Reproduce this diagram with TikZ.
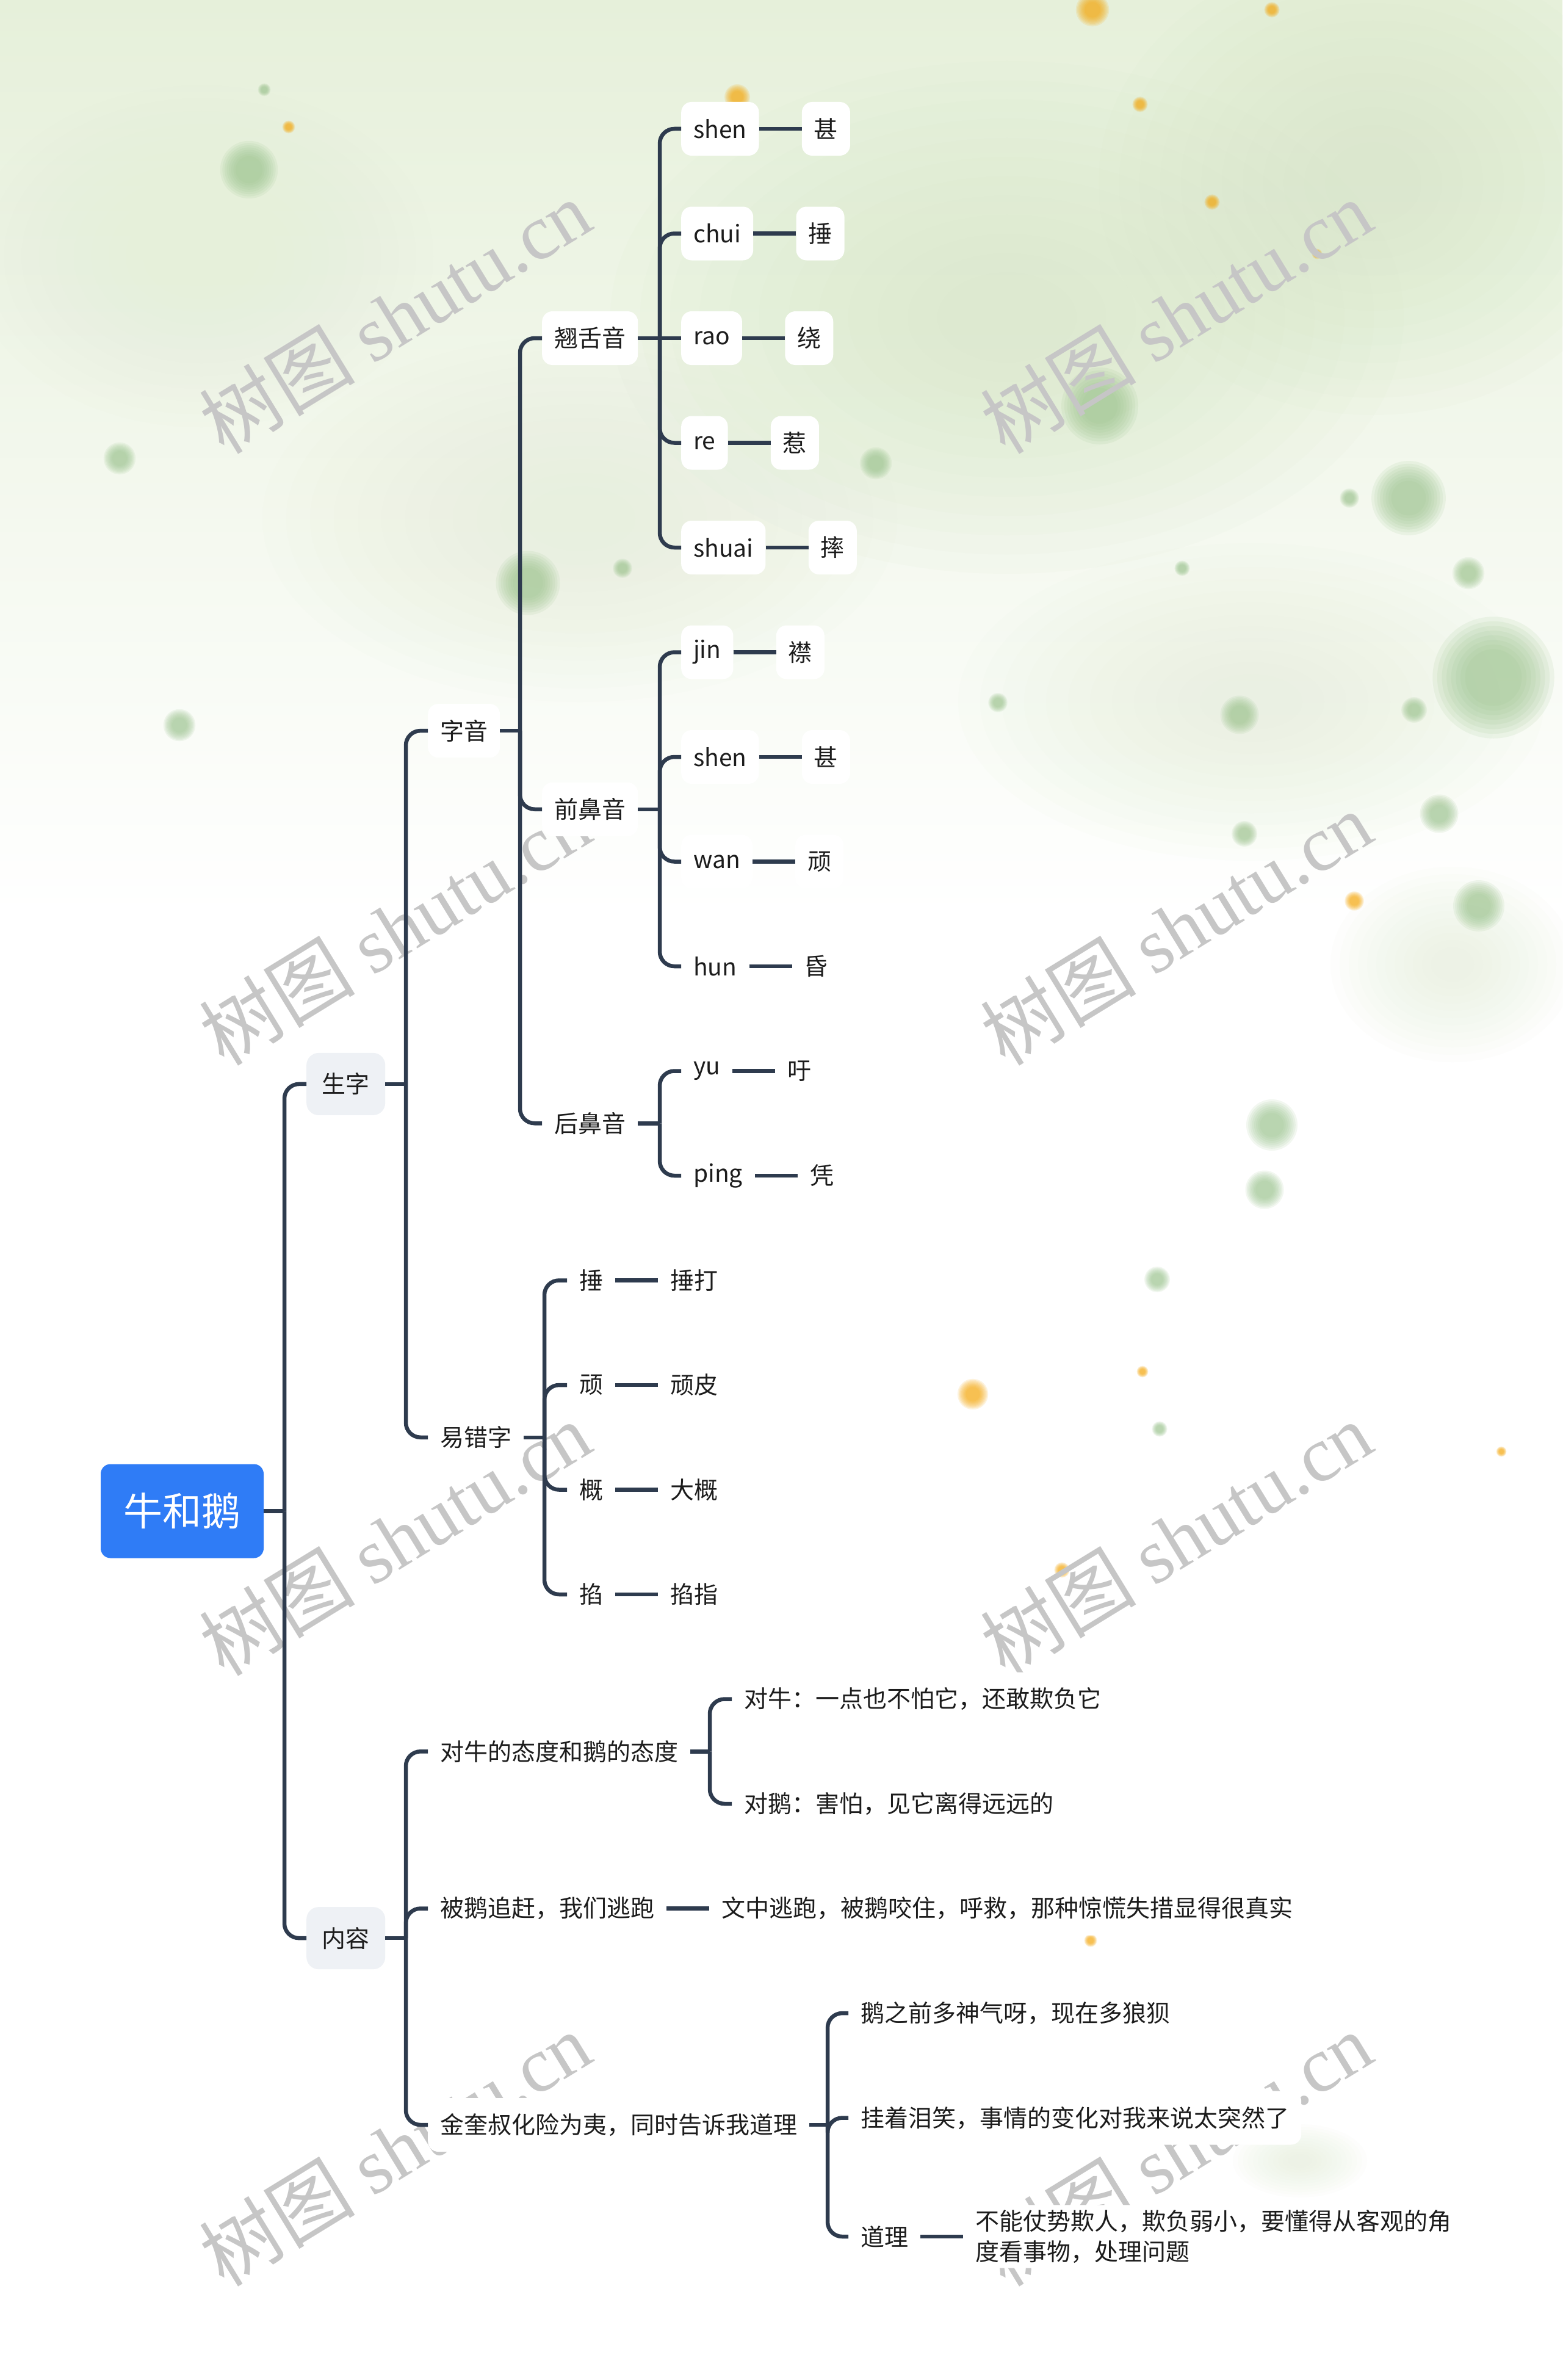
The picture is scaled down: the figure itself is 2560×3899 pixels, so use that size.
\documentclass[tikz,border=0pt]{standalone}
\usepackage{fontspec}
\setmainfont{Noto Sans CJK SC}
\newfontfamily\wmlatin{Liberation Serif}
\newfontfamily\wmcjk{Noto Sans CJK SC}
\usetikzlibrary{positioning}
\definecolor{linec}{HTML}{2E3B4E}
\definecolor{rootc}{HTML}{2F7CF6}
\definecolor{lonec}{HTML}{EEF1F5}
\definecolor{txt}{HTML}{1C1C1C}
\definecolor{wash}{HTML}{E6F0DA}
\definecolor{washd}{HTML}{D6E7C6}
\definecolor{blobg}{HTML}{9CC48E}
\definecolor{orng}{HTML}{F7A400}
\definecolor{wmc}{HTML}{C6C6C6}
\newcommand\softblob[4]{\foreach \k in {0,...,7}{\fill[#4,opacity=0.13] (#1,#2) circle ({#3*(1.05-0.08*\k)});}}
\newcommand\softwash[5]{\foreach \k in {0,...,11}{\fill[#5,opacity=0.07] (#1,#2) ellipse ({#3*(1-0.075*\k)} and {#4*(1-0.075*\k)});}}
\begin{document}
\begin{tikzpicture}[x=1pt,y=-1pt,
  font=\fontsize{39}{50}\selectfont,
  base/.style={text=txt, inner xsep=20pt, inner ysep=8pt, minimum height=88pt, rounded corners=17pt, fill=white, anchor=west},
  lone/.style={base, fill=lonec, inner xsep=25.5pt, minimum height=102pt, rounded corners=20pt},
  rootn/.style={fill=rootc, text=white, font=\fontsize{64}{70}\selectfont, minimum width=267pt, minimum height=154pt, rounded corners=16pt},
  link/.style={draw=linec, line width=6.5pt},
  branch/.style={link, rounded corners=24pt},
  wm/.style={text=wmc, font=\fontsize{128}{130}\selectfont, rotate=31.5}]
\useasboundingbox (0,0) rectangle (2560,3899);
% ---------- background ----------
\fill[white] (0,0) rectangle (2560,3899);
\shade[top color=wash, bottom color=white] (0,0) rectangle (2560,1500);
\softwash{1650}{520}{650}{420}{washd}
\softwash{2250}{300}{450}{380}{washd}
\softwash{2050}{1150}{480}{260}{wash}
\softwash{950}{850}{520}{300}{wash}
\softwash{330}{420}{380}{280}{wash}
\softwash{2380}{1580}{200}{160}{wash}
\softwash{2130}{3540}{110}{60}{wash}
\softblob{1802}{665}{60}{blobg}
\softblob{1435}{759}{25}{blobg}
\softblob{2308}{816}{58}{blobg}
\softblob{2211}{816}{15}{blobg}
\softblob{2406}{939}{25}{blobg}
\softblob{1937}{931}{12}{blobg}
\softblob{2447}{1110}{95}{blobg}
\softblob{2031}{1171}{30}{blobg}
\softblob{2317}{1163}{20}{blobg}
\softblob{1635}{1151}{15}{blobg}
\softblob{408}{278}{45}{blobg}
\softblob{433}{147}{10}{blobg}
\softblob{196}{751}{25}{blobg}
\softblob{865}{955}{50}{blobg}
\softblob{1020}{931}{15}{blobg}
\softblob{294}{1188}{25}{blobg}
\softblob{2358}{1333}{30}{blobg}
\softblob{2039}{1366}{20}{blobg}
\softblob{2423}{1484}{40}{blobg}
\softblob{2084}{1843}{40}{blobg}
\softblob{2072}{1949}{30}{blobg}
\softblob{1896}{2096}{20}{blobg}
\softblob{1900}{2341}{12}{blobg}
\softblob{1790}{16}{26}{orng}
\softblob{2084}{16}{12}{orng}
\softblob{1868}{171}{12}{orng}
\softblob{1986}{331}{12}{orng}
\softblob{2158}{416}{8}{orng}
\softblob{473}{208}{10}{orng}
\softblob{1208}{159}{20}{orng}
\softblob{2219}{1476}{15}{orng}
\softblob{1594}{2284}{24}{orng}
\softblob{1872}{2247}{9}{orng}
\softblob{1740}{2572}{12}{orng}
\softblob{2460}{2378}{8}{orng}
\softblob{1787}{3179}{10}{orng}
% ---------- watermarks (behind the diagram) ----------
\node[wm] (w1) at (647,518) {{\wmcjk 树图} {\wmlatin shutu.cn}};
\node[wm] (w2) at (1927,518) {{\wmcjk 树图} {\wmlatin shutu.cn}};
\node[wm] (w3) at (647,1520) {{\wmcjk 树图} {\wmlatin shutu.cn}};
\node[wm] (w4) at (1927,1520) {{\wmcjk 树图} {\wmlatin shutu.cn}};
\node[wm] (w5) at (647,2520) {{\wmcjk 树图} {\wmlatin shutu.cn}};
\node[wm] (w6) at (1927,2520) {{\wmcjk 树图} {\wmlatin shutu.cn}};
\node[wm] (w7) at (647,3520) {{\wmcjk 树图} {\wmlatin shutu.cn}};
\node[wm] (w8) at (1927,3520) {{\wmcjk 树图} {\wmlatin shutu.cn}};
% ---------- junctions ----------
\coordinate (j0) at (466,2475.5);
\coordinate (jsz) at (665,1775.9);
\coordinate (jnr) at (665,3175.1);
\coordinate (jzy) at (852,1197.1);
\coordinate (jycz) at (892,2354.75);
\coordinate (jqs) at (1081,554);
\coordinate (jqb) at (1081,1325.75);
\coordinate (jhb) at (1081,1840.25);
\coordinate (jtd) at (1163,2869.25);
\coordinate (jjk) at (1356,3481);
% ---------- nodes ----------
\node[rootn] (root) at (298.5,2475.5) {牛和鹅};
\node[lone] (sz) at (502,1775.9) {生字};
\node[lone] (nr) at (502,3175.1) {内容};
\node[base] (zy) at (701,1197.1) {字音};
\node[base] (ycz) at (701,2354.75) {易错字};
\node[base] (qs) at (888,554) {翘舌音};
\node[base] (qb) at (888,1325.75) {前鼻音};
\node[base] (hb) at (888,1840.25) {后鼻音};
% 翘舌音
\node[base] (a1) at (1116,211) {shen};   \node[base,right=70pt of a1] (b1) {甚};
\node[base] (a2) at (1116,382.5) {chui}; \node[base,right=70pt of a2] (b2) {捶};
\node[base] (a3) at (1116,554) {rao};    \node[base,right=70pt of a3] (b3) {绕};
\node[base] (a4) at (1116,725.5) {re};   \node[base,right=70pt of a4] (b4) {惹};
\node[base] (a5) at (1116,897) {shuai};  \node[base,right=70pt of a5] (b5) {摔};
% 前鼻音
\node[base] (a6) at (1116,1068.5) {jin}; \node[base,right=70pt of a6] (b6) {襟};
\node[base] (a7) at (1116,1240) {shen};  \node[base,right=70pt of a7] (b7) {甚};
\node[base] (a8) at (1116,1411.5) {wan}; \node[base,right=70pt of a8] (b8) {顽};
\node[base] (a9) at (1116,1583) {hun};   \node[base,right=70pt of a9] (b9) {昏};
% 后鼻音
\node[base] (a10) at (1116,1754.5) {yu};  \node[base,right=70pt of a10] (b10) {吁};
\node[base] (a11) at (1116,1926) {ping};  \node[base,right=70pt of a11] (b11) {凭};
% 易错字
\node[base] (e1) at (929,2097.5) {捶}; \node[base,right=70pt of e1] (f1) {捶打};
\node[base] (e2) at (929,2269) {顽};   \node[base,right=70pt of e2] (f2) {顽皮};
\node[base] (e3) at (929,2440.5) {概}; \node[base,right=70pt of e3] (f3) {大概};
\node[base] (e4) at (929,2612) {掐};   \node[base,right=70pt of e4] (f4) {掐指};
% 内容
\node[base] (td) at (701,2869.25) {对牛的态度和鹅的态度};
\node[base] (zg) at (701,3126.5) {被鹅追赶，我们逃跑};
\node[base] (jk) at (701,3481) {金奎叔化险为夷，同时告诉我道理};
\node[base] (t1) at (1199,2783.5) {对牛：一点也不怕它，还敢欺负它};
\node[base] (t2) at (1199,2955) {对鹅：害怕，见它离得远远的};
\node[base,right=70pt of zg] (z1) {文中逃跑，被鹅咬住，呼救，那种惊慌失措显得很真实};
\node[base] (k1) at (1390,3298) {鹅之前多神气呀，现在多狼狈};
\node[base] (k2) at (1390,3469.5) {挂着泪笑，事情的变化对我来说太突然了};
\node[base] (k3) at (1390,3664) {道理};
\node[base,align=left,right=70pt of k3] (k4) {不能仗势欺人，欺负弱小，要懂得从客观的角\\度看事物，处理问题};
% ---------- connectors ----------
\draw[link] (root.east) -- (j0);
\draw[branch] (j0) |- (sz.west);
\draw[branch] (j0) |- (nr.west);
\draw[link] (sz.east) -- (jsz);
\draw[branch] (jsz) |- (zy.west);
\draw[branch] (jsz) |- (ycz.west);
\draw[link] (zy.east) -- (jzy);
\draw[branch] (jzy) |- (qs.west);
\draw[branch] (jzy) |- (qb.west);
\draw[branch] (jzy) |- (hb.west);
\draw[link] (qs.east) -- (jqs);
\draw[branch] (jqs) |- (a1.west);
\draw[branch] (jqs) |- (a2.west);
\draw[link] (jqs) -- (a3.west);
\draw[branch] (jqs) |- (a4.west);
\draw[branch] (jqs) |- (a5.west);
\draw[link] (qb.east) -- (jqb);
\draw[branch] (jqb) |- (a6.west);
\draw[branch] (jqb) |- (a7.west);
\draw[branch] (jqb) |- (a8.west);
\draw[branch] (jqb) |- (a9.west);
\draw[link] (hb.east) -- (jhb);
\draw[branch] (jhb) |- (a10.west);
\draw[branch] (jhb) |- (a11.west);
\foreach \i in {1,...,11} {\draw[link] (a\i) -- (b\i);}
\draw[link] (ycz.east) -- (jycz);
\foreach \i in {1,...,4} {\draw[branch] (jycz) |- (e\i.west); \draw[link] (e\i) -- (f\i);}
\draw[link] (nr.east) -- (jnr);
\draw[branch] (jnr) |- (td.west);
\draw[branch] (jnr) |- (zg.west);
\draw[branch] (jnr) |- (jk.west);
\draw[link] (td.east) -- (jtd);
\draw[branch] (jtd) |- (t1.west);
\draw[branch] (jtd) |- (t2.west);
\draw[link] (zg) -- (z1);
\draw[link] (jk.east) -- (jjk);
\draw[branch] (jjk) |- (k1.west);
\draw[branch] (jjk) |- (k2.west);
\draw[branch] (jjk) |- (k3.west);
\draw[link] (k3.east) -- (k3.east -| k4.west);
\end{tikzpicture}
\end{document}
